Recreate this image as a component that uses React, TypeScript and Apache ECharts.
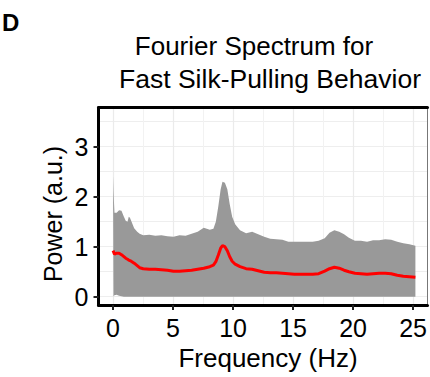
import React, { useEffect, useRef } from "react";
import * as echarts from "echarts";

const freq = [0, 0.04, 0.12, 0.3, 0.5, 0.7, 0.9, 1.05, 1.2, 1.3, 1.4, 1.5, 1.75, 2.0, 2.2, 2.5, 3.0, 3.5, 4.0, 4.5, 5.0, 5.5, 6.0, 6.5, 7.0, 7.5, 8.0, 8.3, 8.5, 8.7, 8.9, 9.05, 9.25, 9.45, 9.65, 9.85, 10.1, 10.5, 11.0, 11.5, 12.0, 12.5, 13.0, 13.5, 14.0, 14.5, 15.0, 15.5, 16.0, 16.5, 17.0, 17.5, 17.9, 18.3, 18.7, 19.1, 19.5, 20.0, 20.5, 21.0, 21.5, 22.0, 22.5, 23.0, 23.5, 24.0, 24.5, 25.0];

const upperPower = [2.42, 2.1, 1.68, 1.68, 1.73, 1.72, 1.6, 1.52, 1.5, 1.6, 1.58, 1.52, 1.37, 1.3, 1.26, 1.23, 1.24, 1.22, 1.23, 1.21, 1.2, 1.23, 1.22, 1.26, 1.3, 1.38, 1.34, 1.36, 1.5, 1.8, 2.15, 2.3, 2.28, 2.15, 1.85, 1.6, 1.45, 1.33, 1.27, 1.3, 1.25, 1.2, 1.16, 1.15, 1.14, 1.1, 1.1, 1.1, 1.1, 1.1, 1.12, 1.17, 1.28, 1.33, 1.3, 1.25, 1.18, 1.12, 1.12, 1.1, 1.13, 1.13, 1.15, 1.14, 1.1, 1.07, 1.05, 1.02];

const lowerPower = [0, 0.01, 0.03, 0.04, 0.02, 0.01, 0, 0, 0, 0, 0, 0, 0, 0, 0, 0, 0, 0, 0, 0, 0, 0, 0, 0, 0, 0, 0, 0, 0, 0, 0, 0, 0, 0, 0, 0, 0, 0, 0, 0, 0, 0, 0, 0, 0, 0, 0, 0, 0, 0, 0, 0, 0, 0, 0, 0, 0, 0, 0, 0, 0, 0, 0, 0, 0, 0, 0, 0];

const meanPower = [0.92, 0.9, 0.85, 0.87, 0.87, 0.84, 0.8, 0.77, 0.75, 0.73, 0.72, 0.71, 0.67, 0.62, 0.58, 0.56, 0.55, 0.55, 0.54, 0.53, 0.51, 0.51, 0.52, 0.53, 0.55, 0.57, 0.6, 0.63, 0.7, 0.83, 0.97, 1.02, 1.0, 0.92, 0.8, 0.71, 0.65, 0.6, 0.56, 0.55, 0.52, 0.49, 0.48, 0.48, 0.47, 0.46, 0.45, 0.45, 0.45, 0.45, 0.46, 0.51, 0.56, 0.59, 0.57, 0.53, 0.5, 0.47, 0.46, 0.45, 0.46, 0.47, 0.47, 0.46, 0.43, 0.41, 0.4, 0.39];

const xTicks = [0, 25, 5];
const yTicks = [0, 3, 1];

const titleLines = ["Fourier Spectrum for", "Fast Silk-Pulling Behavior"];
const panelLabel = "D";
const xTitle = "Frequency (Hz)";
const yTitle = "Power (a.u.)";

const FONT = "'Liberation Sans', Arial, Helvetica, sans-serif";

export default function App() {
  const ref = useRef<HTMLDivElement>(null);
  useEffect(() => {
    if (!ref.current) return;
    const chart = echarts.init(ref.current, undefined, { renderer: "svg" });
    const P = { left: 98.5, right: 2.5, top: 107.5, bottom: 72 };
    const xMin = -1.2, xMax = 26.0, yMin = -0.166, yMax = 3.784;
    const pxPerY = (377 - P.top - P.bottom) / (yMax - yMin);
    const y0 = 377 - P.bottom - (0 - yMin) * pxPerY;
    const pxPerX = (430 - P.left - P.right) / (xMax - xMin);
    const x0 = P.left + (0 - xMin) * pxPerX;
    const x25 = P.left + (25 - xMin) * pxPerX;

    const hidden = { show: false };
    const upper = freq.map((f, i) => [f, upperPower[i]]);
    const lower = freq.map((f, i) => [f, lowerPower[i]]);
    const mean = freq.map((f, i) => [f, meanPower[i]]);

    const option: any = {
      animation: false,
      grid: [
        { ...P },
        { left: P.left, right: P.right, top: y0 - 3.5 * pxPerY, bottom: 377 - y0 },
        { left: x0, right: 430 - x25, top: P.top, bottom: P.bottom },
        { left: P.left, right: P.right, top: y0 - 3 * pxPerY, bottom: 377 - y0 },
      ],
      xAxis: [
        { gridIndex: 0, type: "value", min: xMin, max: xMax, axisLine: { show: true, onZero: false, lineStyle: { color: "#000", width: 3 } }, axisTick: hidden, axisLabel: hidden, splitLine: hidden },
        { gridIndex: 0, type: "value", position: "top", min: xMin, max: xMax, axisLine: { show: true, onZero: false, lineStyle: { color: "#000", width: 3 } }, axisTick: hidden, axisLabel: hidden, splitLine: hidden },
        { gridIndex: 1, type: "value", min: 0, max: 1, show: false },
        {
          gridIndex: 2, type: "value", min: xTicks[0], max: xTicks[1], interval: xTicks[2],
          axisLine: { show: false },
          axisTick: { show: true, length: 5, lineStyle: { color: "#222", width: 2 } },
          axisLabel: { show: true, margin: 10, fontSize: 25, fontFamily: FONT, color: "#000" },
          splitLine: { show: true, lineStyle: { color: "#EBEBEB", width: 1.2 } },
          minorTick: { show: false, splitNumber: 2 },
          minorSplitLine: { show: true, lineStyle: { color: "#F2F2F2", width: 1 } },
        },
        { gridIndex: 3, type: "value", min: 0, max: 1, show: false },
      ],
      yAxis: [
        { gridIndex: 0, type: "value", min: yMin, max: yMax, axisLine: { show: true, onZero: false, lineStyle: { color: "#000", width: 3 } }, axisTick: hidden, axisLabel: hidden, splitLine: hidden },
        { gridIndex: 0, type: "value", position: "right", min: yMin, max: yMax, axisLine: { show: true, onZero: false, lineStyle: { color: "#777", width: 1 } }, axisTick: hidden, axisLabel: hidden, splitLine: hidden },
        {
          gridIndex: 1, type: "value", min: 0, max: 3.5, interval: 0.5,
          axisLine: { show: false }, axisTick: hidden, axisLabel: hidden,
          splitLine: { show: true, lineStyle: { color: "#EEEEEE", width: 1.2 } },
        },
        { gridIndex: 2, type: "value", min: 0, max: 1, show: false },
        {
          gridIndex: 3, type: "value", min: yTicks[0], max: yTicks[1], interval: yTicks[2],
          axisLine: { show: false },
          axisTick: { show: true, length: 5, lineStyle: { color: "#222", width: 2 } },
          axisLabel: { show: true, margin: 10, fontSize: 25, fontFamily: FONT, color: "#000" },
          splitLine: hidden,
        },
      ],
      series: [
        { type: "line", xAxisIndex: 0, yAxisIndex: 0, data: upper, symbol: "none", lineStyle: { width: 0, opacity: 0 }, areaStyle: { color: "#999999", opacity: 1, origin: 0 }, silent: true, z: 2 },
        { type: "line", xAxisIndex: 0, yAxisIndex: 0, data: lower, symbol: "none", lineStyle: { width: 0, opacity: 0 }, areaStyle: { color: "#FFFFFF", opacity: 1, origin: 0 }, silent: true, z: 3 },
        { type: "line", xAxisIndex: 0, yAxisIndex: 0, data: mean, symbol: "none", lineStyle: { color: "#FF0000", width: 3 }, z: 5, silent: true },
      ],
      graphic: [
        { type: "text", left: 2, top: 10, style: { text: panelLabel, font: `bold 24px ${FONT}`, fill: "#000" } },
        { type: "text", x: 254, y: 59, style: { text: titleLines[0], fontSize: 26, fontFamily: FONT, fill: "#000", textAlign: "center", textVerticalAlign: "bottom" } },
        { type: "text", x: 270, y: 92, style: { text: titleLines[1], fontSize: 26.5, fontFamily: FONT, fill: "#000", textAlign: "center", textVerticalAlign: "bottom" } },
        { type: "text", x: 268, y: 358, style: { text: xTitle, fontSize: 26, fontFamily: FONT, fill: "#000", textAlign: "center", textVerticalAlign: "middle" } },
        { type: "text", x: 53, y: 214, rotation: Math.PI / 2, style: { text: yTitle, fontSize: 25, fontFamily: FONT, fill: "#000", textAlign: "center", textVerticalAlign: "middle" } },
      ],
    };
    chart.setOption(option);
    return () => chart.dispose();
  }, []);
  return <div ref={ref} style={{ position: "fixed", left: 0, top: 0, width: 430, height: 377, background: "#fff" }} />;
}
